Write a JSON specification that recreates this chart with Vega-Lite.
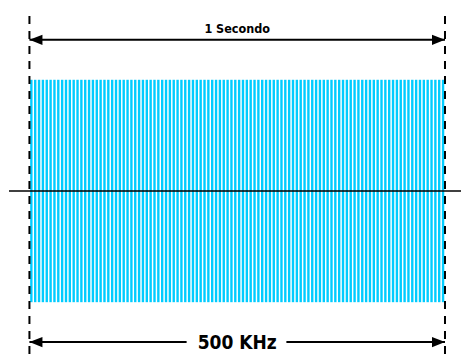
{
  "$schema": "https://vega.github.io/schema/vega-lite/v6.json",
  "autosize": {"type": "fit", "contains": "padding"},
  "width": 462,
  "height": 361,
  "padding": 0,
  "background": "white",
  "config": {"view": {"stroke": null}},
  "datasets": {
    "pulses": [
      {"k":0},{"k":1},{"k":2},{"k":3},{"k":4},{"k":5},{"k":6},{"k":7},{"k":8},{"k":9},
      {"k":10},{"k":11},{"k":12},{"k":13},{"k":14},{"k":15},{"k":16},{"k":17},{"k":18},{"k":19},
      {"k":20},{"k":21},{"k":22},{"k":23},{"k":24},{"k":25},{"k":26},{"k":27},{"k":28},{"k":29},
      {"k":30},{"k":31},{"k":32},{"k":33},{"k":34},{"k":35},{"k":36},{"k":37},{"k":38},{"k":39},
      {"k":40},{"k":41},{"k":42},{"k":43},{"k":44},{"k":45},{"k":46},{"k":47},{"k":48},{"k":49},
      {"k":50},{"k":51},{"k":52},{"k":53},{"k":54},{"k":55},{"k":56},{"k":57},{"k":58},{"k":59},
      {"k":60},{"k":61},{"k":62},{"k":63},{"k":64},{"k":65},{"k":66},{"k":67},{"k":68},{"k":69},
      {"k":70},{"k":71},{"k":72},{"k":73},{"k":74},{"k":75},{"k":76},{"k":77},{"k":78},{"k":79},
      {"k":80},{"k":81},{"k":82},{"k":83},{"k":84},{"k":85},{"k":86},{"k":87},{"k":88},{"k":89},
      {"k":90},{"k":91},{"k":92},{"k":93},{"k":94},{"k":95},{"k":96},{"k":97},{"k":98},{"k":99},
      {"k":100},{"k":101},{"k":102},{"k":103},{"k":104},{"k":105},{"k":106},{"k":107}
    ]
  },
  "layer": [
    {
      "data": {"name": "pulses"},
      "mark": {"type": "rule", "color": "#00ccff", "strokeWidth": 2.4},
      "encoding": {
        "x": {"field": "k", "type": "quantitative", "scale": {"domain": [-8.15, 111.66], "nice": false, "zero": false}, "axis": null},
        "y": {"datum": -1, "type": "quantitative", "scale": {"domain": [-1.52, 1.7175], "nice": false, "zero": false}, "axis": null},
        "y2": {"datum": 1}
      }
    },
    {
      "data": {"values": [{"x1": -5.82, "x2": 111.66, "y": 0}]},
      "mark": {"type": "rule", "color": "black", "strokeWidth": 1.5},
      "encoding": {
        "x": {"field": "x1", "type": "quantitative"},
        "x2": {"field": "x2"},
        "y": {"field": "y", "type": "quantitative"}
      }
    },
    {
      "data": {"values": [{"x": -0.5}, {"x": 107.5}]},
      "mark": {"type": "rule", "color": "black", "strokeWidth": 2, "strokeDash": [8, 7]},
      "encoding": {
        "x": {"field": "x", "type": "quantitative"},
        "y": {"datum": 1.574, "type": "quantitative"},
        "y2": {"datum": -1.52}
      }
    },
    {
      "data": {"values": [
        {"x1": -0.5, "x2": 107.5, "y": 1.359},
        {"x1": -0.5, "x2": 40.35, "y": -1.359},
        {"x1": 66.28, "x2": 107.5, "y": -1.359}
      ]},
      "mark": {"type": "rule", "color": "black", "strokeWidth": 2},
      "encoding": {
        "x": {"field": "x1", "type": "quantitative"},
        "x2": {"field": "x2"},
        "y": {"field": "y", "type": "quantitative"}
      }
    },
    {
      "data": {"values": [
        {"x": -0.5, "y": 1.359, "dir": "left"},
        {"x": 107.5, "y": 1.359, "dir": "right"},
        {"x": -0.5, "y": -1.359, "dir": "left"},
        {"x": 107.5, "y": -1.359, "dir": "right"}
      ]},
      "mark": {"type": "point", "filled": true, "color": "black", "opacity": 1, "size": 169, "strokeWidth": 0},
      "encoding": {
        "x": {"field": "x", "type": "quantitative"},
        "y": {"field": "y", "type": "quantitative"},
        "shape": {"field": "dir", "type": "nominal", "scale": {"domain": ["left", "right"], "range": ["M0,0L2,-0.8L2,0.8Z", "M0,0L-2,-0.8L-2,0.8Z"]}, "legend": null}
      }
    },
    {
      "data": {"values": [{"x": 53.5, "y": 1.4215, "label": "1 Secondo"}]},
      "mark": {"type": "text", "font": "DejaVu Sans Condensed, sans-serif", "fontWeight": "bold", "fontSize": 12.5, "baseline": "alphabetic", "align": "center", "color": "black"},
      "encoding": {
        "x": {"field": "x", "type": "quantitative"},
        "y": {"field": "y", "type": "quantitative"},
        "text": {"field": "label"}
      }
    },
    {
      "data": {"values": [{"x": 53.5, "y": -1.422, "label": "500 KHz"}]},
      "mark": {"type": "text", "font": "DejaVu Sans Condensed, sans-serif", "fontWeight": "bold", "fontSize": 19, "baseline": "alphabetic", "align": "center", "color": "black"},
      "encoding": {
        "x": {"field": "x", "type": "quantitative"},
        "y": {"field": "y", "type": "quantitative"},
        "text": {"field": "label"}
      }
    }
  ]
}
